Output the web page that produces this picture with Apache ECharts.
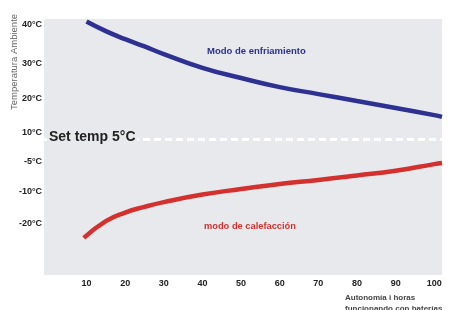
<!DOCTYPE html>
<html>
<head>
<meta charset="utf-8">
<script src="https://cdn.jsdelivr.net/npm/echarts@6/dist/echarts.min.js"></script>
<style>
  html, body { margin: 0; padding: 0; background: #fff; }
  #chart { width: 457px; height: 310px; }
</style>
</head>
<body>
<div id="chart"></div>
<script>
// hours on battery
const hours = [9.3, 10, 15, 20, 25, 30, 40, 50, 60, 70, 80, 90, 100, 102];
// temperatures (°C)
const coolingTemps = [null, 40.9, 38.4, 36.3, 34.4, 32.4, 28.7, 25.8, 23.2, 21.2, 19.2, 17.2, 15.1, 14.6];
const heatingTemps = [-24.6, null, -19.3, -16.6, -14.8, -13.3, -10.9, -9.55, -8.7, -8.05, -7.3, -6.5, -5.4, -5.2];

const xTicks = [10, 20, 30, 40, 50, 60, 70, 80, 90, 100];
// the axis is schematic, not to scale: temperature breakpoints and their heights
const scaleTemps = [-20, -10, -5, 5, 10, 20, 30, 40];
const scaleLevels = [51.7, 83.3, 113.3, 135.7, 142.3, 176.7, 211.7, 250];
const yTickTemps = [-20, -10, -5, 10, 20, 30, 40];
const setTemp = 5;

function tempToLevel(t) {
  let i = 0;
  if (t > scaleTemps[scaleTemps.length - 1]) i = scaleTemps.length - 2;
  else {
    while (i < scaleTemps.length - 2 && t > scaleTemps[i + 1]) i++;
  }
  const t0 = scaleTemps[i], t1 = scaleTemps[i + 1];
  const l0 = scaleLevels[i], l1 = scaleLevels[i + 1];
  return l0 + (t - t0) / (t1 - t0) * (l1 - l0);
}

const levelLabels = yTickTemps.map(t => ({ level: tempToLevel(t), text: t + '°C' }));

function toPoints(temps) {
  const pts = [];
  temps.forEach((t, i) => {
    if (t !== null) pts.push([hours[i], tempToLevel(t)]);
  });
  return pts;
}

const chart = echarts.init(document.getElementById('chart'));

const option = {
  animation: false,
  grid: {
    left: 44, right: 15, top: 19, bottom: 35,
    show: true, backgroundColor: '#e8e9ed', borderWidth: 0
  },
  xAxis: {
    type: 'value',
    min: -1, max: 102,
    axisLine: { show: false },
    axisTick: { show: false },
    splitLine: { show: false },
    axisLabel: {
      customValues: xTicks,
      margin: 4,
      fontFamily: 'Liberation Sans, Arial, sans-serif',
      fontWeight: 'bold', fontSize: 9, color: '#222'
    }
  },
  yAxis: {
    type: 'value',
    min: 0, max: 256,
    axisLine: { show: false },
    axisTick: { show: false },
    splitLine: { show: false },
    axisLabel: {
      customValues: levelLabels.map(d => d.level),
      margin: 2,
      fontFamily: 'Liberation Sans, Arial, sans-serif',
      fontWeight: 'bold', fontSize: 9, color: '#222',
      formatter: function (v) {
        let best = levelLabels[0];
        levelLabels.forEach(d => { if (Math.abs(d.level - v) < Math.abs(best.level - v)) best = d; });
        return best.text;
      }
    }
  },
  graphic: [
    {
      type: 'text', x: 14, y: 62, rotation: Math.PI / 2,
      style: {
        text: 'Temperatura Ambiente', fill: '#666',
        font: '9.5px "Liberation Sans", Arial, sans-serif',
        align: 'center', verticalAlign: 'middle'
      }
    },
    {
      type: 'text', left: 47, top: 130, z: 10,
      style: {
        text: 'Set temp 5°C', fill: '#222',
        font: 'bold 14px "Liberation Sans", Arial, sans-serif',
        backgroundColor: '#e8e9ed', padding: [0, 2, 0, 2]
      }
    },
    {
      type: 'text', left: 207, top: 46,
      style: {
        text: 'Modo de enfriamiento', fill: '#2e3192',
        font: 'bold 9.5px "Liberation Sans", Arial, sans-serif'
      }
    },
    {
      type: 'text', left: 204, top: 222,
      style: {
        text: 'modo de calefacción', fill: '#d3302e',
        font: 'bold 9.3px "Liberation Sans", Arial, sans-serif'
      }
    },
    {
      type: 'text', left: 345, top: 292,
      style: {
        text: 'Autonomía i horas\nfuncionando con baterías', fill: '#444',
        font: 'bold 8px "Liberation Sans", Arial, sans-serif', lineHeight: 11
      }
    }
  ],
  series: [
    {
      name: 'Modo de enfriamiento',
      type: 'line',
      data: toPoints(coolingTemps),
      smooth: 0.5,
      showSymbol: false,
      lineStyle: { color: '#2e3192', width: 4.5 },
      markLine: {
        silent: true,
        symbol: 'none',
        label: { show: false },
        lineStyle: { color: '#ffffff', type: [7, 4], width: 3 },
        data: [{ yAxis: tempToLevel(setTemp) }]
      }
    },
    {
      name: 'modo de calefacción',
      type: 'line',
      data: toPoints(heatingTemps),
      smooth: 0.5,
      showSymbol: false,
      lineStyle: { color: '#d3302e', width: 4.5 }
    }
  ]
};

chart.setOption(option);
</script>
</body>
</html>
